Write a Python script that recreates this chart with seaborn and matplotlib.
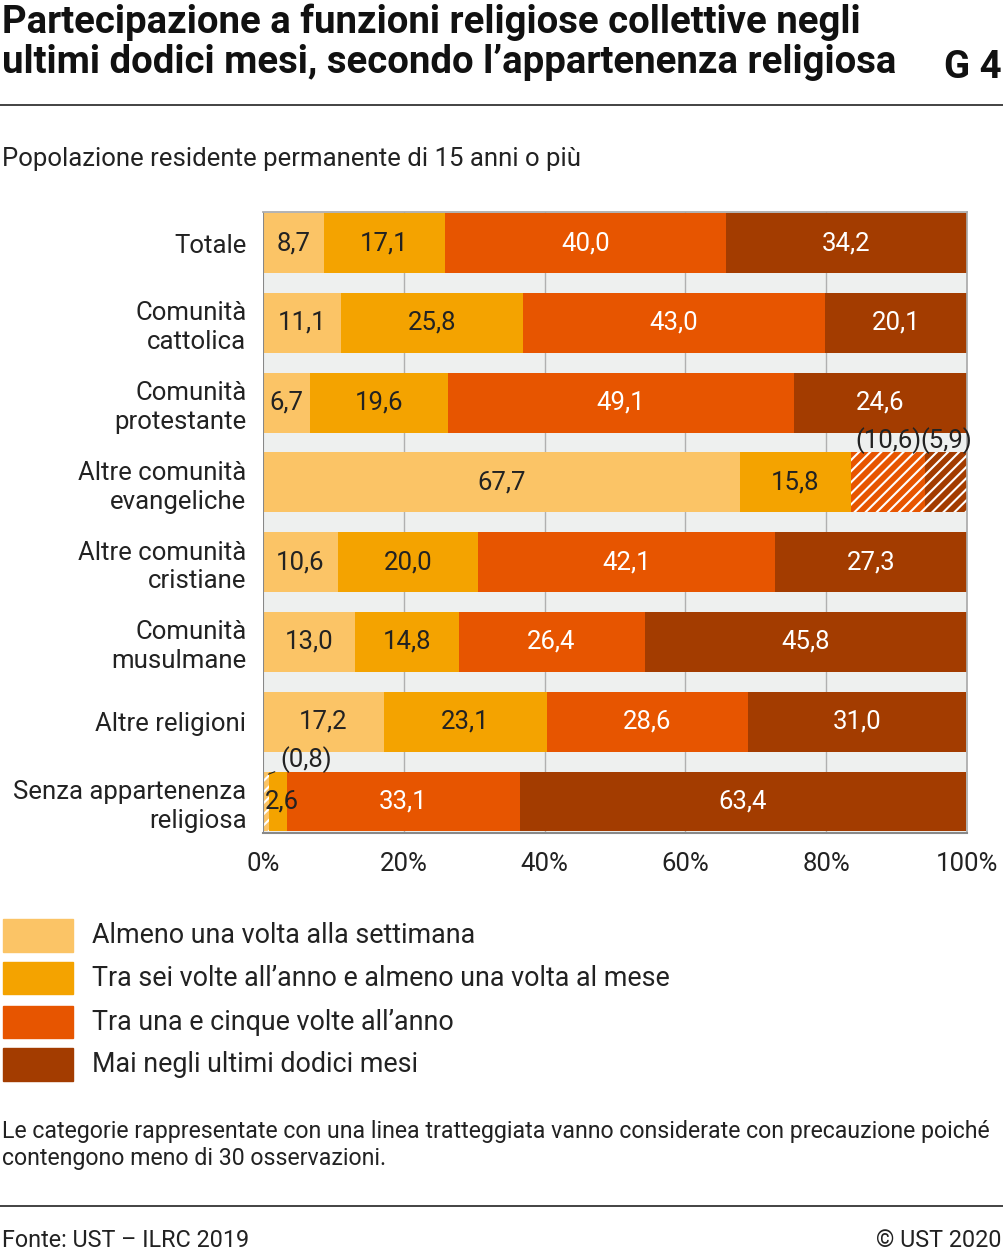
import numpy as np
import pandas as pd
import matplotlib
matplotlib.use("Agg")
import matplotlib.pyplot as plt
import seaborn as sns

categories = ["Totale", "Comunità\ncattolica", "Comunità\nprotestante", "Altre comunità\nevangeliche",
              "Altre comunità\ncristiane", "Comunità\nmusulmane", "Altre religioni",
              "Senza appartenenza\nreligiosa"]
weekly = [8.7, 11.1, 6.7, 67.7, 10.6, 13.0, 17.2, 0.8]
monthly = [17.1, 25.8, 19.6, 15.8, 20.0, 14.8, 23.1, 2.6]
yearly = [40.0, 43.0, 49.1, 10.6, 42.1, 26.4, 28.6, 33.1]
never = [34.2, 20.1, 24.6, 5.9, 27.3, 45.8, 31.0, 63.4]
series_names = ["Almeno una volta alla settimana",
                "Tra sei volte all’anno e almeno una volta al mese",
                "Tra una e cinque volte all’anno",
                "Mai negli ultimi dodici mesi"]
colors = ["#fbc466", "#f4a300", "#e75500", "#a33c00"]
hatched = {(3, 2), (3, 3), (7, 0)}

sns.set_theme(style="white")
plt.rcParams['font.family'] = ['Roboto', 'DejaVu Sans']
plt.rcParams['hatch.linewidth'] = 1.5
FS = 18.5

fig = plt.figure(figsize=(10.04, 12.54), dpi=100)
ax = fig.add_axes([0.262, 0.336, 0.701, 0.495])
ax.set_facecolor("#eef0ef")

vals = np.array([weekly, monthly, yearly, never])
cum = np.cumsum(vals, axis=0)
for s in range(3, -1, -1):
    df = pd.DataFrame({"cat": categories, "v": cum[s]})
    sns.barplot(data=df, x="v", y="cat", orient="h", color=colors[s], ax=ax,
                width=0.75, saturation=1, linewidth=0)
for gi, s in enumerate(range(3, -1, -1)):
    for r in range(len(categories)):
        p = ax.patches[gi * len(categories) + r]
        if (r, s) in hatched:
            p.set_hatch("///")
            p.set_edgecolor("white")
            p.set_linewidth(0)

for r in range(len(categories)):
    for s in range(4):
        v = vals[s, r]
        left = cum[s, r] - v
        lab = f"{v:.1f}".replace(".", ",")
        if (r, s) in hatched:
            if r == 3:
                ax.text(left + v / 2, r - 0.36, f"({lab})", ha="center", va="bottom",
                        fontsize=FS, color="#222222")
            else:
                ax.annotate(f"({lab})", xy=(left + v / 2, r - 0.33), xytext=(2.5, r - 0.53),
                            fontsize=FS, color="#222222", va="center",
                            arrowprops=dict(arrowstyle="-", color="#222222", lw=0.8))
            continue
        x = left + v / 2
        if r == 7 and s == 1:
            x = left + v / 2 + 0.6
        ax.text(x, r, lab, ha="center", va="center", fontsize=FS,
                color="#222222" if s < 2 else "white")

ax.set_xlim(0, 100)
ax.set_ylim(7.39, -0.39)
ax.set_xticks(range(0, 101, 20))
ax.set_xticklabels([f"{t}%" for t in range(0, 101, 20)], fontsize=FS, color="#222222")
ax.set_yticks(range(len(categories)))
ax.set_yticklabels(categories, fontsize=FS, color="#222222", linespacing=1.25)
ax.set_xlabel("")
ax.set_ylabel("")
ax.tick_params(axis="y", length=0, pad=12)
ax.tick_params(axis="x", length=0, pad=14)
for x in range(20, 100, 20):
    ax.axvline(x, color="#b0b0b0", lw=1, zorder=0)
ax.axvline(0, color="#888888", lw=1.5)
ax.spines["left"].set_visible(False)
ax.spines["bottom"].set_color("#888888")
ax.spines["bottom"].set_linewidth(1.5)
ax.spines["right"].set_color("#aaaaaa")
ax.spines["top"].set_color("#aaaaaa")
ax.set_axisbelow(True)

fig.text(0.002, 0.997, "Partecipazione a funzioni religiose collettive negli\nultimi dodici mesi, secondo l’appartenenza religiosa",
         fontsize=27.6, fontweight="bold", va="top", ha="left", color="#111111", linespacing=1.08)
fig.text(0.998, 0.946, "G 4", fontsize=27.6, fontweight="bold", ha="right", va="center", color="#111111")
fig.add_artist(plt.Line2D([0, 1], [0.916, 0.916], color="#222222", lw=1.2))
fig.text(0.002, 0.873, "Popolazione residente permanente di 15 anni o più", fontsize=FS,
         va="center", color="#222222")

ly = [0.254, 0.220, 0.185, 0.151]
for i, name in enumerate(series_names):
    fig.patches.append(plt.Rectangle((0.003, ly[i] - 0.013), 0.07, 0.026,
                                     transform=fig.transFigure, color=colors[i]))
    fig.text(0.092, ly[i], name, fontsize=19.4, va="center", color="#222222")

fig.text(0.002, 0.087, "Le categorie rappresentate con una linea tratteggiata vanno considerate con precauzione poiché\ncontengono meno di 30 osservazioni.",
         fontsize=16.7, va="center", color="#222222", linespacing=1.2)
fig.add_artist(plt.Line2D([0, 1], [0.038, 0.038], color="#222222", lw=1.2))
fig.text(0.002, 0.011, "Fonte: UST – ILRC 2019", fontsize=16.8, va="center", color="#222222")
fig.text(0.998, 0.011, "© UST 2020", fontsize=16.8, va="center", ha="right", color="#222222")

fig.savefig("out.png", dpi=100)
